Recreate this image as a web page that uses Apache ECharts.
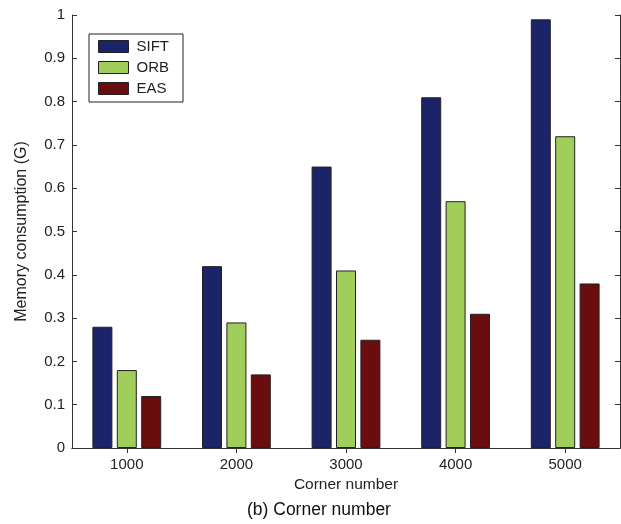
<!DOCTYPE html>
<html><head><meta charset="utf-8">
<script src="https://cdn.jsdelivr.net/npm/echarts@6/dist/echarts.min.js"></script>
<style>html,body{margin:0;padding:0;background:#fff}#c{width:621px;height:524px}</style>
</head><body><div id="c"></div>
<script>
var categories = ['1000', '2000', '3000', '4000', '5000'];
var siftValues = [0.28, 0.42, 0.65, 0.81, 0.99];
var orbValues = [0.18, 0.29, 0.41, 0.57, 0.72];
var easValues = [0.12, 0.17, 0.25, 0.31, 0.38];
var seriesNames = ['SIFT', 'ORB', 'EAS'];
var yTicks = [0, 0.1, 0.2, 0.3, 0.4, 0.5, 0.6, 0.7, 0.8, 0.9, 1];

var font = 'Liberation Sans, Arial, sans-serif';
var axisColor = '#333';
var chart = echarts.init(document.getElementById('c'), null, {renderer: 'canvas'});
function bar(name, data, color) {
  return {
    name: name, type: 'bar', data: data, xAxisIndex: 0, yAxisIndex: 0,
    barWidth: 20, barGap: '22%',
    itemStyle: {color: color, borderColor: '#222', borderWidth: 1}
  };
}
chart.setOption({
  animation: false,
  grid: {left: 72, right: 1, top: 15, bottom: 76},
  legend: {
    data: seriesNames, orient: 'vertical', left: 89, top: 34,
    itemWidth: 30, itemHeight: 12, itemGap: 6,
    padding: [5, 14, 6, 9],
    backgroundColor: '#fff', borderColor: '#222', borderWidth: 1,
    icon: 'rect',
    itemStyle: {borderColor: '#222', borderWidth: 1},
    textStyle: {fontFamily: font, fontSize: 15, color: '#222', padding: [0, 0, 0, 3]}
  },
  graphic: [{
    type: 'text', left: 247, top: 501,
    style: {text: '(b) Corner number', fontFamily: font, fontSize: 17.5, fill: '#111'}
  }],
  xAxis: [{
    type: 'category', data: categories, position: 'bottom',
    name: 'Corner number', nameLocation: 'middle', nameGap: 28,
    nameTextStyle: {fontFamily: font, fontSize: 15.5, color: '#222'},
    axisLine: {lineStyle: {color: axisColor, width: 1}},
    axisTick: {show: false},
    axisLabel: {fontFamily: font, fontSize: 15, color: '#222', margin: 9}
  }, {
    type: 'category', data: categories, position: 'top',
    axisLine: {lineStyle: {color: axisColor, width: 1}},
    axisTick: {show: true, inside: true, alignWithLabel: true, length: 5, lineStyle: {color: axisColor}},
    axisLabel: {show: false}
  }],
  yAxis: [{
    type: 'value', min: 0, max: 1, interval: 0.1, position: 'left',
    name: 'Memory consumption (G)', nameLocation: 'middle', nameGap: 42,
    nameTextStyle: {fontFamily: font, fontSize: 16, color: '#222'},
    axisLine: {show: true, lineStyle: {color: axisColor, width: 1}},
    axisTick: {show: true, inside: true, length: 5, lineStyle: {color: axisColor}},
    splitLine: {show: false},
    axisLabel: {fontFamily: font, fontSize: 15, color: '#222', margin: 7,
      formatter: function (v) { var t = yTicks.filter(function (y) { return Math.abs(y - v) < 1e-6; }); return t.length ? String(t[0]) : ''; }}
  }, {
    type: 'value', min: 0, max: 1, interval: 0.1, position: 'right',
    axisLine: {show: true, lineStyle: {color: axisColor, width: 1}},
    axisTick: {show: true, inside: true, length: 5, lineStyle: {color: axisColor}},
    splitLine: {show: false},
    axisLabel: {show: false}
  }],
  series: [
    bar('SIFT', siftValues, '#1b2369'),
    bar('ORB', orbValues, '#a1cd5b'),
    bar('EAS', easValues, '#6a0d0e')
  ]
});
</script></body></html>
